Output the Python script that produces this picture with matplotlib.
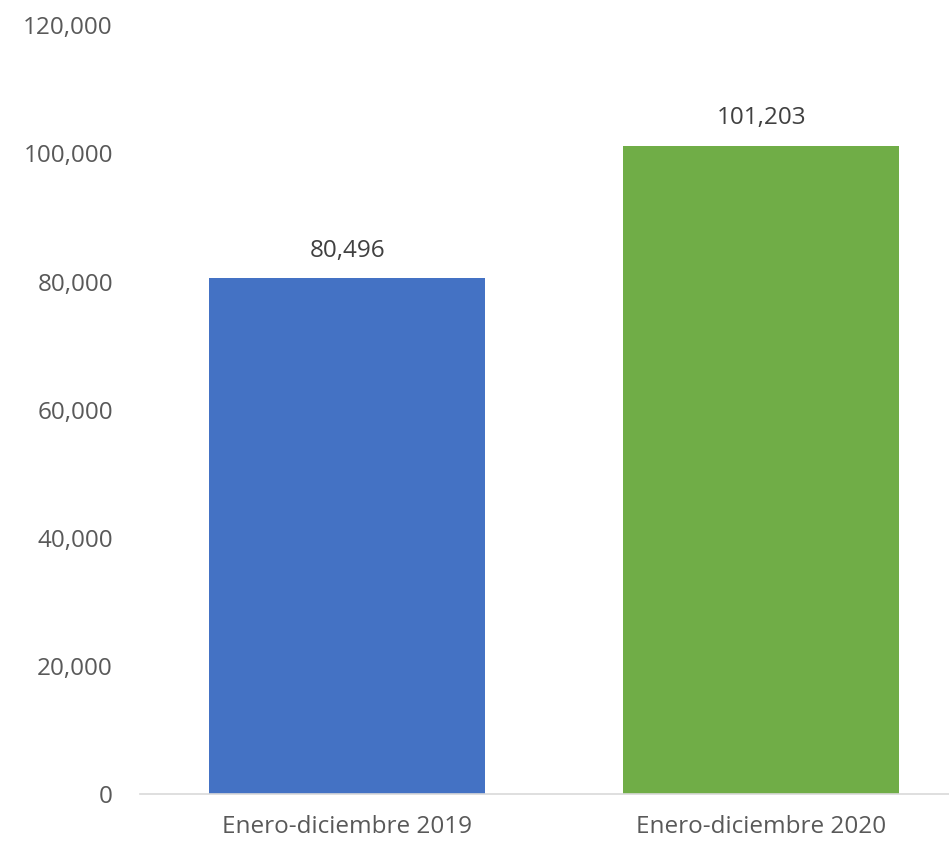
import matplotlib
matplotlib.use("Agg")
import matplotlib.pyplot as plt
from matplotlib.ticker import FuncFormatter

# data
categories = ["Enero-diciembre 2019", "Enero-diciembre 2020"]
values = [80496, 101203]
colors = ["#4472C4", "#70AD47"]

plt.rcParams['font.family'] = ['Open Sans', 'DejaVu Sans']
txt = "#595959"

fig = plt.figure(figsize=(9.49, 8.42), dpi=100)
ax = fig.add_axes([0.1475, 0.057, 0.852, 0.913])

x = list(range(len(categories)))
bars = ax.bar(x, values, width=0.667, color=colors)

for b, v in zip(bars, values):
    ax.annotate(f"{v:,}", (b.get_x() + b.get_width() / 2, v),
                xytext=(0, 11), textcoords="offset points",
                ha="center", va="bottom", fontsize=17.5, color="#404040")

ax.set_xlim(-0.5, 1.452)
ax.set_ylim(0, 120000)
ax.set_yticks(range(0, 120001, 20000))
ax.yaxis.set_major_formatter(FuncFormatter(lambda v, p: f"{int(v):,}"))
ax.set_xticks(x)
ax.set_xticklabels(categories)

for s in ["top", "right", "left"]:
    ax.spines[s].set_visible(False)
ax.spines["bottom"].set_color("#D9D9D9")
ax.spines["bottom"].set_linewidth(1.2)
ax.tick_params(axis="both", length=0, labelsize=17.5, colors=txt)
ax.tick_params(axis="y", pad=19.5)
ax.tick_params(axis="x", pad=15)

fig.savefig("out.png", dpi=100)
